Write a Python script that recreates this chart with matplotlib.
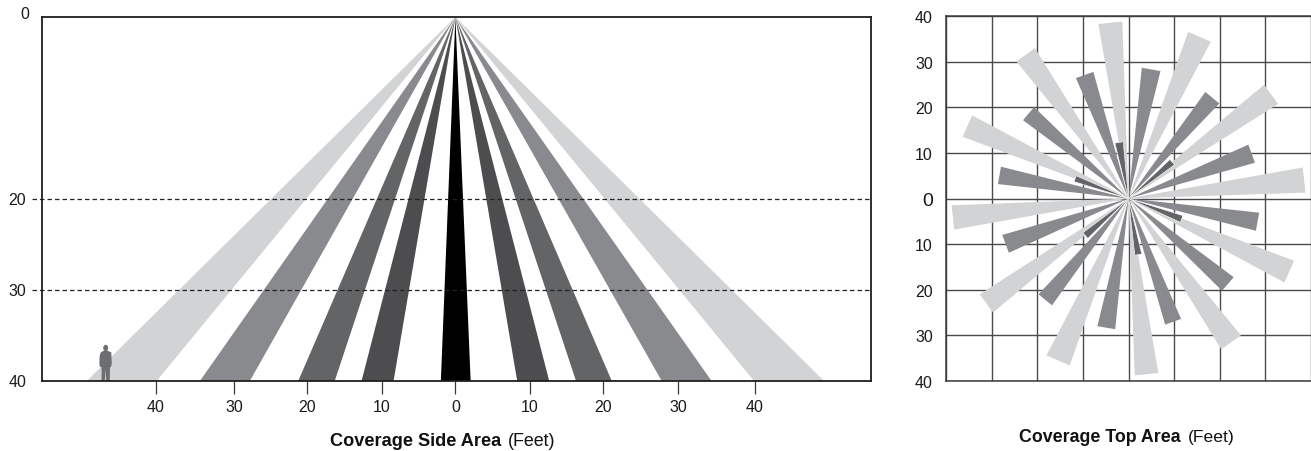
import numpy as np
import matplotlib
matplotlib.use("Agg")
import matplotlib.pyplot as plt
from matplotlib.patches import Polygon, Ellipse

plt.rcParams['font.family'] = ['Liberation Sans', 'DejaVu Sans']

W, H = 1311, 451
LIGHT, MEDIUM, DARK, DARKER, BLACK = '#d1d3d4', '#888a8d', '#636466', '#4d4d4f', '#000000'

# Side view: band edges on the floor (feet from centre)
side_bands = [(-49.5, -40.1), (-34.3, -27.6), (-21.1, -16.2), (-12.6, -8.3), (-1.95, 2.05),
              (8.3, 12.6), (16.2, 21.0), (27.7, 34.4), (40.1, 49.5)]
side_colors = [LIGHT, MEDIUM, DARK, DARKER, BLACK, DARKER, DARK, MEDIUM, LIGHT]
side_xticks = [-40.2, -29.7, -19.9, -9.9, 0, 10.0, 19.8, 29.9, 40.2]
side_xlabels = ['40', '30', '20', '10', '0', '10', '20', '30', '40']
side_yticks = [0, 20, 30, 40]
dashed_levels = [20, 30]

# Top view: wedges as (start bearing, end bearing) in degrees, reach in feet
light_wedges = [(-9.8, -2.0), (19.7, 27.7), (50.0, 57.7), (79.9, 88.1), (110.6, 118.3), (140.6, 148.4),
                (170.3, 178.0), (199.4, 207.6), (229.9, 237.2), (259.9, 267.8), (290.4, 298.0), (320.7, 328.1)]
medium_wedges = [(5.8, 14.1), (35.8, 43.7), (65.8, 74.2), (96.2, 104.2), (126.8, 134.6), (156.4, 163.8),
                 (185.8, 193.7), (215.6, 223.2), (245.6, 253.9), (276.3, 284.0), (306.6, 314.1), (336.4, 344.5)]
dark_wedges = [(-13.8, -5.3), (46.7, 53.8), (107.5, 114.7), (166.6, 173.7), (225.5, 233.1), (287.2, 293.5)]
light_reach, medium_reach, dark_reach = 38.8, 28.8, 12.5
top_ticks = [-40, -30, -20, -10, 0, 10, 20, 30, 40]
top_labels = ['40', '30', '20', '10', '0', '10', '20', '30', '40']

# Silhouette outline (feet: offset from person centre, height above floor)
person_x = -46.95
person_outline_x = [-0.28, -0.65, -0.8, -0.85, -0.78, -0.6, -0.55, -0.55, -0.95, -0.95, -0.12, -0.02, 0.06, 0.55, 0.55, 0.58, 0.72, 0.82, 0.75, 0.28]
person_outline_y = [3.32, 3.15, 2.8, 1.95, 1.55, 1.55, 1.5, 0.1, 0.05, 0.0, 0.0, 1.3, 0.0, 0.0, 0.1, 1.5, 1.55, 1.95, 3.15, 3.32]


def axes_px(left, top, right, bottom):
    return fig.add_axes([left / W, 1 - bottom / H, (right - left) / W, (bottom - top) / H])


def wedge_points(a, b, reach):
    ra, rb = np.radians([a, b])
    return [(0, 0), (reach * np.sin(ra), reach * np.cos(ra)), (reach * np.sin(rb), reach * np.cos(rb))]


fig = plt.figure(figsize=(W / 100, H / 100), dpi=100, facecolor='white')

# ---------- Side view ----------
ax = axes_px(42, 17, 871, 381)
ax.set_xlim(-55.5, 55.8)
ax.set_ylim(40, 0)
for (a, b), c in zip(side_bands, side_colors):
    ax.add_patch(Polygon([(0, 0), (a, 40), (b, 40)], closed=True, fc=c, ec='none', zorder=2))
for lv in dashed_levels:
    ax.plot([-56.9, 55.8], [lv, lv], color='#222222', lw=0.9, ls=(0, (3.6, 2.4)), zorder=3, clip_on=False)
ax.add_patch(Polygon(np.column_stack([person_x + np.array(person_outline_x), 40 - np.array(person_outline_y)]),
                     closed=True, fc='#6d6e71', ec='none', zorder=4))
ax.add_patch(Ellipse((person_x, 40 - 3.62), 0.66, 0.72, fc='#6d6e71', ec='none', zorder=4))
ax.set_xticks(side_xticks, side_xlabels)
ax.set_yticks(side_yticks, ['' if v == 0 else str(v) for v in side_yticks])
ax.tick_params(axis='x', length=9.5, width=0.9, color='#3a3a3c', pad=4.5, labelsize=11.5, labelcolor='#1a1a1a')
ax.tick_params(axis='y', length=0, pad=11.5, labelsize=11.5, labelcolor='#1a1a1a')
ax.annotate('0', xy=(0, 0), xycoords=ax.get_yaxis_transform(), xytext=(-9.2, 1.5),
            textcoords='offset points', ha='right', va='center', fontsize=11.5, color='#1a1a1a',
            annotation_clip=False)
for s in ax.spines.values():
    s.set_linewidth(1.3)
    s.set_color('#1f1f20')
    s.set_zorder(5)
fig.text(501 / W, 1 - 441 / H, 'Coverage Side Area', fontsize=13.05, fontweight='bold', ha='right', va='center', color='#111111')
fig.text(508 / W, 1 - 441 / H, '(Feet)', fontsize=12.9, ha='left', va='center', color='#111111')

# ---------- Top view ----------
tx = axes_px(946, 16, 1311, 381)
tx.set_xlim(-40, 40)
tx.set_ylim(-40, 40)
tx.set_xticks(top_ticks)
tx.set_yticks(top_ticks)
tx.set_xticklabels([])
tx.set_yticklabels([])
tx.tick_params(axis='both', length=0)
tx.grid(True, color='#4a4a4c', lw=1.0, zorder=1)
tx.set_axisbelow(True)
for s in tx.spines.values():
    s.set_linewidth(1.1)
    s.set_color('#3a3a3c')
tx.spines['right'].set_visible(False)
for wedges, reach, color, edge in [(light_wedges, light_reach, LIGHT, 'none'),
                                   (medium_wedges, medium_reach, MEDIUM, 'none'),
                                   (dark_wedges, dark_reach, DARK, 'white')]:
    for a, b in wedges:
        tx.add_patch(Polygon(wedge_points(a, b, reach), closed=True, fc=color, ec=edge, lw=0.4, zorder=3))
for v, txt in zip(top_ticks, top_labels):
    tx.annotate(txt, xy=(0, v), xycoords=tx.get_yaxis_transform(), xytext=(-9.5, -1.8),
                textcoords='offset points', ha='right', va='center',
                fontsize=14 if txt == '0' else 11.5, color='#1a1a1a', annotation_clip=False)
fig.text(1181 / W, 1 - 437.5 / H, 'Coverage Top Area', fontsize=12.75, fontweight='bold', ha='right', va='center', color='#111111')
fig.text(1188 / W, 1 - 437.5 / H, '(Feet)', fontsize=12.6, ha='left', va='center', color='#111111')

fig.savefig('out.png', dpi=100)
